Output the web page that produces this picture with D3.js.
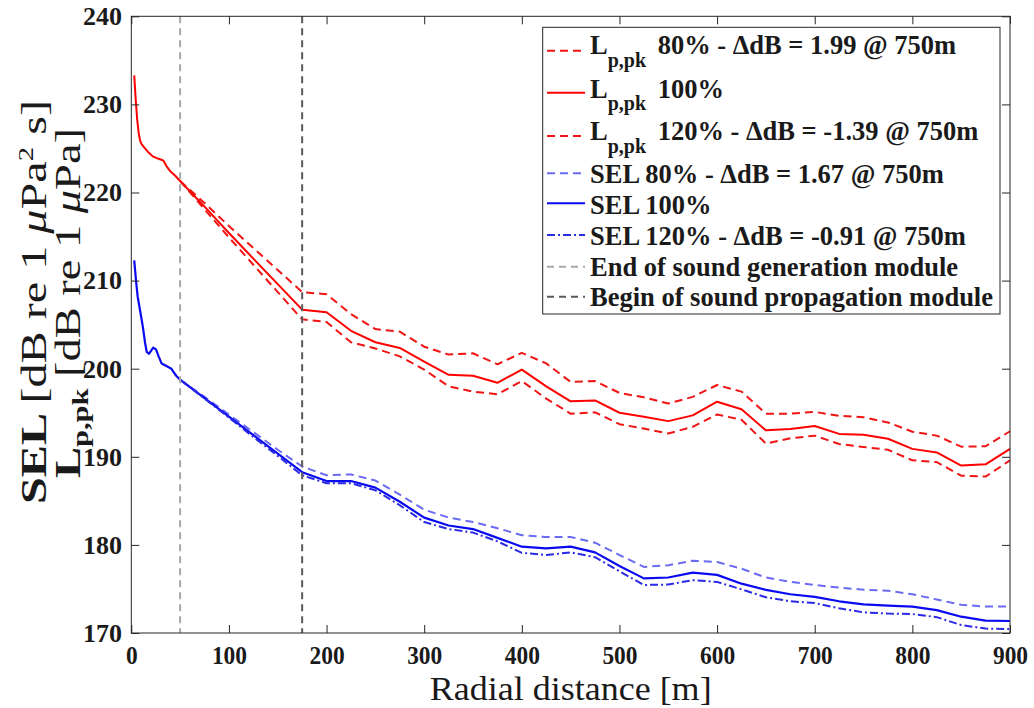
<!DOCTYPE html>
<html>
<head>
<meta charset="utf-8">
<script src="https://cdn.jsdelivr.net/npm/d3@7"></script>
<style>
  body { margin: 0; background: #fff; }
  svg { display: block; }
</style>
</head>
<body>
<svg id="chart" width="1034" height="708"></svg>
<script>
// ---- Data ----------------------------------------------------------------
// Near field (sound generation module, dense sampling)
const rNearLp  = [3, 4.5, 6, 7.5, 9, 10.5, 14, 18, 22, 26, 30, 33, 36, 40, 45, 50, 75, 100, 125, 150];
const lp100Near = [233.3, 230.6, 228.3, 226.8, 225.9, 225.5, 225.0, 224.5, 224.1, 223.9, 223.75, 223.6, 223.0, 222.4, 221.9, 221.3, 218.4, 215.4, 212.5, 209.6];

const rNearSel  = [3, 5, 6.5, 9, 11, 12.3, 14, 15.8, 18, 20, 22.5, 25.3, 28, 31, 36, 41, 43, 46, 50, 75, 100, 125, 150];
const sel100Near = [212.3, 209.8, 208.2, 206.6, 205.3, 204.4, 203.0, 201.9, 201.7, 202.0, 202.4, 202.2, 201.4, 200.6, 200.3, 200.0, 199.66, 199.2, 198.75, 196.65, 194.55, 192.45, 190.35];

// Scaled-source variants between the two module boundaries
const rTransition = [50, 75, 100, 125, 150];
const lp80Transition   = [221.3, 218.8, 216.2, 213.7, 211.2];
const lp120Transition  = [221.3, 218.1, 214.9, 211.8, 208.7];
const sel80Transition  = [198.75, 196.8, 194.8, 192.8, 190.8];
const sel120Transition = [198.75, 196.6, 194.45, 192.25, 190.1];

// Sound propagation module (25 m steps)
const rProp = [175, 200, 225, 250, 275, 300, 325, 350, 375, 400, 425, 450, 475, 500, 525,
               550, 575, 600, 625, 650, 675, 700, 725, 750, 775, 800, 825, 850, 875, 900];
const lp100Prop = [206.7, 206.4, 204.3, 203.0, 202.35, 200.8, 199.3, 199.2, 198.4, 199.9, 198.0, 196.3, 196.4, 195.0, 194.55,
                   194.05, 194.7, 196.25, 195.4, 193.0, 193.15, 193.5, 192.6, 192.5, 192.05, 190.9, 190.5, 189.0, 189.15, 190.9];
const lp80Prop  = [208.7, 208.45, 206.2, 204.5, 204.2, 202.5, 201.6, 201.75, 200.5, 201.8, 200.6, 198.5, 198.6, 197.25, 196.75,
                   196.05, 196.8, 198.15, 197.4, 194.9, 194.9, 195.1, 194.65, 194.49, 193.9, 192.85, 192.4, 191.15, 191.2, 192.9];
const lp120Prop = [205.6, 205.3, 203.0, 202.3, 201.4, 199.9, 198.0, 197.4, 197.1, 198.6, 196.6, 194.9, 195.05, 193.7, 193.2,
                   192.65, 193.4, 194.8, 194.2, 191.5, 192.1, 192.4, 191.45, 191.11, 190.8, 189.6, 189.4, 187.85, 187.75, 189.6];
const sel100Prop = [188.25, 187.25, 187.25, 186.5, 184.9, 183.1, 182.2, 181.8, 180.8, 179.8, 179.6, 179.8, 179.15, 177.6, 176.2,
                    176.3, 176.85, 176.6, 175.6, 174.9, 174.4, 174.1, 173.6, 173.25, 173.1, 172.99, 172.6, 171.85, 171.4, 171.36];
const sel80Prop  = [188.9, 187.9, 188.0, 187.3, 185.7, 184.0, 183.1, 182.6, 181.9, 181.1, 180.9, 180.9, 180.25, 178.85, 177.5,
                    177.7, 178.2, 178.06, 177.3, 176.3, 175.8, 175.45, 175.15, 174.92, 174.8, 174.4, 173.8, 173.2, 173.0, 173.0];
const sel120Prop = [187.9, 187.0, 187.0, 186.2, 184.5, 182.6, 181.8, 181.4, 180.4, 179.1, 178.85, 179.15, 178.6, 177.0, 175.45,
                    175.5, 176.0, 175.8, 174.95, 174.05, 173.6, 173.4, 172.8, 172.34, 172.2, 172.15, 171.8, 170.9, 170.5, 170.45];

// Module boundaries [m]
const moduleBounds = [50, 175];
const refDistance = 750;

const xTicks = [0, 100, 200, 300, 400, 500, 600, 700, 800, 900];
const yTicks = [170, 180, 190, 200, 210, 220, 230, 240];

// ---- Helpers -------------------------------------------------------------
const zip = (xs, ys) => xs.map((d, i) => [d, ys[i]]);
const iRef = rProp.indexOf(refDistance);
const delta = (a, b) => (a[iRef] - b[iRef]).toFixed(2);

// ---- Layout ----------------------------------------------------------------
const svg = d3.select("#chart");
const plotL = 131.3, plotR = 1010, plotT = 16.3, plotB = 633;
const x = d3.scaleLinear().domain([0, 900]).range([plotL, plotR]);
const y = d3.scaleLinear().domain([170, 240]).range([plotB, plotT]);
const serif = "'Liberation Serif', 'Times New Roman', serif";

svg.append("rect").attr("width", 1034).attr("height", 708).attr("fill", "#fff");

const RED = "#ff0000", RED_D = "#f01414", BLUE = "#0a0af0", BLUE_L = "#6a6af2", BLUE_DD = "#2a2ae6";
const DASH = "8,5", DASHDOT = "8,3,2,3", GDASH = "7,5";

const series = [
  { pts: zip(rTransition, lp80Transition).concat(zip(rProp, lp80Prop)), color: RED_D, dash: DASH, w: 2 },
  { pts: zip(rNearLp, lp100Near).concat(zip(rProp, lp100Prop)), color: RED, dash: null, w: 2 },
  { pts: zip(rTransition, lp120Transition).concat(zip(rProp, lp120Prop)), color: RED_D, dash: DASH, w: 2 },
  { pts: zip(rTransition, sel80Transition).concat(zip(rProp, sel80Prop)), color: BLUE_L, dash: DASH, w: 2 },
  { pts: zip(rNearSel, sel100Near).concat(zip(rProp, sel100Prop)), color: BLUE, dash: null, w: 2.2 },
  { pts: zip(rTransition, sel120Transition).concat(zip(rProp, sel120Prop)), color: BLUE_DD, dash: DASHDOT, w: 2 }
];

const line = d3.line().x(d => x(d[0])).y(d => y(d[1]));

const plot = svg.append("g");
series.forEach(s => {
  plot.append("path")
    .attr("d", line(s.pts))
    .attr("fill", "none")
    .attr("stroke", s.color)
    .attr("stroke-width", s.w)
    .attr("stroke-linejoin", "round")
    .attr("stroke-dasharray", s.dash);
});

// module boundary markers
const boundColors = ["#a8a8a8", "#5a5a5a"];
moduleBounds.forEach((m, i) => {
  plot.append("line")
    .attr("x1", x(m)).attr("x2", x(m))
    .attr("y1", y(240)).attr("y2", y(170))
    .attr("stroke", boundColors[i]).attr("stroke-width", 2)
    .attr("stroke-dasharray", GDASH);
});

// ---- Axes ------------------------------------------------------------------
const axisColor = "#262626";
function styleAxis(g) {
  g.select(".domain").remove();
  g.selectAll(".tick line").attr("stroke", axisColor).attr("stroke-width", 1);
  g.selectAll("text").attr("font-family", serif).attr("font-weight", "bold")
    .attr("font-size", 26).attr("fill", "#1a1a1a");
}

const gx = svg.append("g").attr("transform", `translate(0,${plotB})`)
  .call(d3.axisBottom(x).tickValues(xTicks).tickSize(-8).tickPadding(12.5).tickFormat(d3.format("d")));
styleAxis(gx);
gx.selectAll("text").each(function (d) {
  const s = String(d);
  d3.select(this).attr("textLength", 11.7 * s.length).attr("lengthAdjust", "spacingAndGlyphs");
});

const gxt = svg.append("g").attr("transform", `translate(0,${plotT})`)
  .call(d3.axisTop(x).tickValues(xTicks).tickSize(-8).tickFormat(""));
styleAxis(gxt);

const gy = svg.append("g").attr("transform", `translate(${plotL},0)`)
  .call(d3.axisLeft(y).tickValues(yTicks).tickSize(-8).tickPadding(9.3).tickFormat(d3.format("d")));
styleAxis(gy);

const gyr = svg.append("g").attr("transform", `translate(${plotR},0)`)
  .call(d3.axisRight(y).tickValues(yTicks).tickSize(-8).tickFormat(""));
styleAxis(gyr);

svg.append("rect")
  .attr("x", plotL).attr("y", plotT).attr("width", plotR - plotL).attr("height", plotB - plotT)
  .attr("fill", "none").attr("stroke", axisColor).attr("stroke-width", 1);

// axis titles
svg.append("text")
  .attr("x", (plotL + plotR) / 2).attr("y", 700)
  .attr("text-anchor", "middle")
  .attr("font-family", serif).attr("font-size", 33).attr("fill", "#1a1a1a")
  .attr("textLength", 282).attr("lengthAdjust", "spacingAndGlyphs")
  .text("Radial distance [m]");

const yl1 = svg.append("text")
  .attr("transform", "translate(46,302) rotate(-90)")
  .attr("text-anchor", "middle")
  .attr("font-family", serif).attr("font-size", 35).attr("fill", "#1a1a1a")
  .attr("textLength", 404).attr("lengthAdjust", "spacingAndGlyphs");
yl1.append("tspan").attr("font-weight", "bold").text("SEL ");
yl1.append("tspan").text("[dB re 1 ");
yl1.append("tspan").attr("font-style", "italic").text("μ");
yl1.append("tspan").text("Pa");
yl1.append("tspan").attr("font-size", 21).attr("dy", -13).text("2");
yl1.append("tspan").attr("dy", 13).text(" s]");

const yl2 = svg.append("text")
  .attr("transform", "translate(80,303) rotate(-90)")
  .attr("text-anchor", "middle")
  .attr("font-family", serif).attr("font-size", 35).attr("fill", "#1a1a1a")
  .attr("textLength", 350).attr("lengthAdjust", "spacingAndGlyphs");
yl2.append("tspan").attr("font-weight", "bold").text("L");
yl2.append("tspan").attr("font-weight", "bold").attr("font-size", 23).attr("dy", 8).text("p,pk");
yl2.append("tspan").attr("dy", -8).text(" [dB re 1 ");
yl2.append("tspan").attr("font-style", "italic").text("μ");
yl2.append("tspan").text("Pa]");

// ---- Legend ----------------------------------------------------------------
const legendRows = [
  { color: RED_D, dash: DASH, sub: true, pct: "80%", d: delta(lp80Prop, lp100Prop), base: 54 },
  { color: RED, dash: null, sub: true, pct: "100%", d: null, base: 97.5 },
  { color: RED_D, dash: DASH, sub: true, pct: "120%", d: delta(lp120Prop, lp100Prop), base: 140 },
  { color: BLUE_L, dash: DASH, sub: false, pct: "80%", d: delta(sel80Prop, sel100Prop), base: 183 },
  { color: BLUE, dash: null, sub: false, pct: "100%", d: null, base: 214 },
  { color: BLUE_DD, dash: DASHDOT, sub: false, pct: "120%", d: delta(sel120Prop, sel100Prop), base: 244.5 },
  { color: boundColors[0], dash: GDASH, text: "End of sound generation module", base: 275.5 },
  { color: boundColors[1], dash: GDASH, text: "Begin of sound propagation module", base: 305.5 }
];
const lineOffset = [3.3, 4.8, 4, 9.7, 10.7, 9.5, 8.8, 8.8];

const lg = svg.append("g");
lg.append("rect")
  .attr("x", 542.7).attr("y", 27.3).attr("width", 1000 - 542.7).attr("height", 314 - 27.3)
  .attr("fill", "#fff").attr("stroke", axisColor).attr("stroke-width", 1);

legendRows.forEach((r, i) => {
  const ly = r.base - lineOffset[i];
  lg.append("line")
    .attr("x1", 547).attr("x2", 585).attr("y1", ly).attr("y2", ly)
    .attr("stroke", r.color).attr("stroke-width", 2)
    .attr("stroke-dasharray", r.dash);
  const t = lg.append("text")
    .attr("x", 590).attr("y", r.base)
    .attr("font-family", serif).attr("font-weight", "bold").attr("font-size", 26.5)
    .attr("fill", "#1a1a1a");
  const tail = r.d === null ? ` ${r.pct}` : ` ${r.pct} - ΔdB = ${r.d} @ ${refDistance}m`;
  if (r.text) {
    t.text(r.text);
  } else if (r.sub) {
    t.append("tspan").text("L");
    t.append("tspan").attr("font-size", 20).attr("dy", 12.7).text("p,pk");
    t.append("tspan").attr("x", 651).attr("dy", -12.7).text(tail);
  } else {
    t.text("SEL" + tail);
  }
});
</script>
</body>
</html>
